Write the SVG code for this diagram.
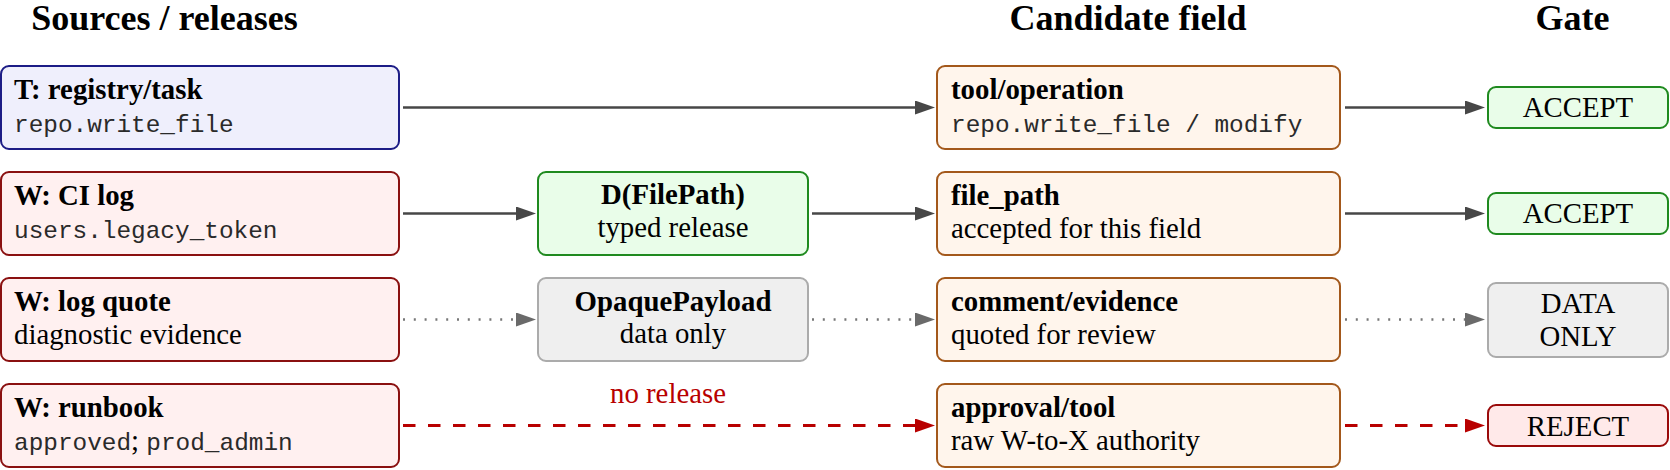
<svg xmlns="http://www.w3.org/2000/svg" width="1670" height="470" viewBox="0 0 1670 470">
<defs>
<style>
.hdr{font-family:"Liberation Serif","Times New Roman",serif;font-weight:bold;font-size:36px;fill:#000;text-anchor:middle}
.b{font-family:"Liberation Serif","Times New Roman",serif;font-weight:bold;font-size:28.8px;fill:#000}
.t{font-family:"Liberation Serif","Times New Roman",serif;font-size:28.8px;fill:#000}
.m{font-family:"Liberation Mono","Courier New",monospace;font-size:24.4px;fill:#2a2a2a}
.c{text-anchor:middle}
.src-t{fill:#efeffc;stroke:#1c1c86;stroke-width:2}
.src-w{fill:#fff0f0;stroke:#8a1010;stroke-width:2}
.okbox{fill:#e9fde9;stroke:#1f8a1f;stroke-width:2}
.graybox{fill:#efefef;stroke:#ababab;stroke-width:2}
.cand{fill:#fff5ec;stroke:#a3581b;stroke-width:2}
.rej{fill:#ffe9e9;stroke:#9a0a0a;stroke-width:2}
.solid{stroke:#474747;stroke-width:2.6;fill:none;marker-end:url(#ah)}
.dot{stroke:#777;stroke-width:2.6;fill:none;stroke-dasharray:2 8.8;marker-end:url(#ahg)}
.dash{stroke:#b80000;stroke-width:2.8;fill:none;stroke-dasharray:12.5 12.5;marker-end:url(#ahr)}
</style>
<marker id="ah" markerUnits="userSpaceOnUse" markerWidth="20" markerHeight="14" refX="2" refY="7" orient="auto">
<path d="M0,0 L20,7 L0,14 z" fill="#474747"/>
</marker>
<marker id="ahg" markerUnits="userSpaceOnUse" markerWidth="20" markerHeight="14" refX="2" refY="7" orient="auto">
<path d="M0,0 L20,7 L0,14 z" fill="#6a6a6a"/>
</marker>
<marker id="ahr" markerUnits="userSpaceOnUse" markerWidth="20" markerHeight="14" refX="2" refY="7" orient="auto">
<path d="M0,0 L20,7 L0,14 z" fill="#b80000"/>
</marker>
</defs>
<rect width="1670" height="470" fill="#fff"/>

<g id="headers">
<text class="hdr" x="164.5" y="30">Sources / releases</text>
<text class="hdr" x="1128" y="30">Candidate field</text>
<text class="hdr" x="1572.5" y="30">Gate</text>
</g>

<g id="connectors">
<line class="solid" x1="403" y1="107.5" x2="917" y2="107.5"/>
<line class="solid" x1="403" y1="213.5" x2="518" y2="213.5"/>
<line class="solid" x1="812" y1="213.5" x2="917" y2="213.5"/>
<line class="dot" x1="403" y1="319.5" x2="518" y2="319.5"/>
<line class="dot" x1="812" y1="319.5" x2="917" y2="319.5"/>
<line class="dash" x1="403" y1="425.5" x2="917" y2="425.5"/>
<line class="solid" x1="1345" y1="107.5" x2="1467" y2="107.5"/>
<line class="solid" x1="1345" y1="213.5" x2="1467" y2="213.5"/>
<line class="dot" x1="1345" y1="319.5" x2="1467" y2="319.5"/>
<line class="dash" x1="1345" y1="425.5" x2="1467" y2="425.5"/>
<text class="t c" x="668" y="403" style="fill:#b80000">no release</text>
</g>

<g id="src-task">
<rect class="src-t" x="1" y="66" width="398" height="83" rx="8"/>
<text class="b" x="14" y="99">T: registry/task</text>
<text class="m" x="14" y="132">repo.write_file</text>
</g>
<g id="src-ci">
<rect class="src-w" x="1" y="172" width="398" height="83" rx="8"/>
<text class="b" x="14" y="205">W: CI log</text>
<text class="m" x="14" y="238">users.legacy_token</text>
</g>
<g id="src-quote">
<rect class="src-w" x="1" y="278" width="398" height="83" rx="8"/>
<text class="b" x="14" y="311">W: log quote</text>
<text class="t" x="14" y="344">diagnostic evidence</text>
</g>
<g id="src-runbook">
<rect class="src-w" x="1" y="384" width="398" height="83" rx="8"/>
<text class="b" x="14" y="417">W: runbook</text>
<text class="m" x="14" y="450">approved<tspan class="t" style="font-size:28.8px">; </tspan>prod_admin</text>
</g>

<g id="rel-filepath">
<rect class="okbox" x="538" y="172" width="270" height="83" rx="8"/>
<text class="b c" x="673" y="204">D(FilePath)</text>
<text class="t c" x="673" y="237">typed release</text>
</g>
<g id="rel-opaque">
<rect class="graybox" x="538" y="278" width="270" height="83" rx="8"/>
<text class="b c" x="673" y="311">OpaquePayload</text>
<text class="t c" x="673" y="343">data only</text>
</g>

<g id="cand-tool">
<rect class="cand" x="937" y="66" width="403" height="83" rx="8"/>
<text class="b" x="951" y="99">tool/operation</text>
<text class="m" x="951" y="132">repo.write_file / modify</text>
</g>
<g id="cand-path">
<rect class="cand" x="937" y="172" width="403" height="83" rx="8"/>
<text class="b" x="951" y="205">file_path</text>
<text class="t" x="951" y="238">accepted for this field</text>
</g>
<g id="cand-comment">
<rect class="cand" x="937" y="278" width="403" height="83" rx="8"/>
<text class="b" x="951" y="311">comment/evidence</text>
<text class="t" x="951" y="344">quoted for review</text>
</g>
<g id="cand-approval">
<rect class="cand" x="937" y="384" width="403" height="83" rx="8"/>
<text class="b" x="951" y="417">approval/tool</text>
<text class="t" x="951" y="450">raw W-to-X authority</text>
</g>

<g id="gate-1">
<rect class="okbox" x="1488" y="87" width="180" height="41" rx="8"/>
<text class="t c" x="1578" y="117">ACCEPT</text>
</g>
<g id="gate-2">
<rect class="okbox" x="1488" y="193" width="180" height="41" rx="8"/>
<text class="t c" x="1578" y="223">ACCEPT</text>
</g>
<g id="gate-3">
<rect class="graybox" x="1488" y="283" width="180" height="74" rx="8"/>
<text class="t c" x="1578" y="313">DATA</text>
<text class="t c" x="1578" y="346">ONLY</text>
</g>
<g id="gate-4">
<rect class="rej" x="1488" y="405" width="180" height="41" rx="8"/>
<text class="t c" x="1578" y="436">REJECT</text>
</g>
</svg>
